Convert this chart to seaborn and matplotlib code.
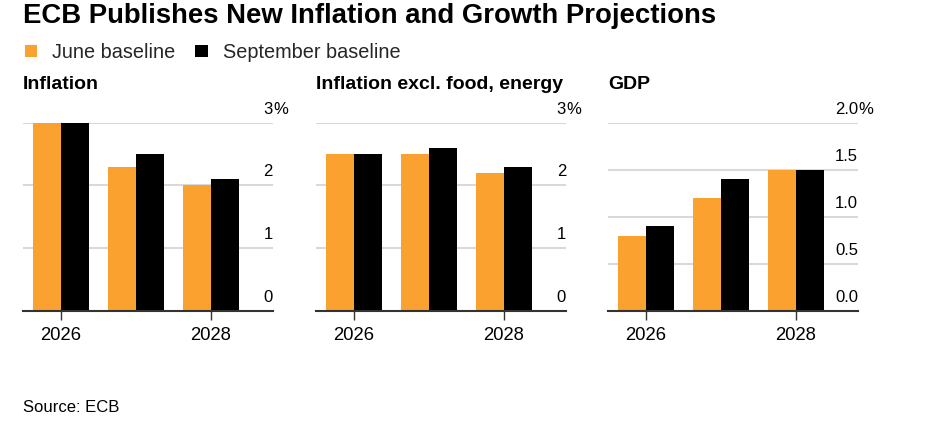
import matplotlib
matplotlib.use("Agg")
import matplotlib.pyplot as plt
import matplotlib.transforms as mtransforms
from matplotlib.patches import Patch
import pandas as pd
import seaborn as sns

# data
years = ["2026", "2027", "2028"]
series = ["June baseline", "September baseline"]
inflation_june = [3.0, 2.3, 2.0]
inflation_sept = [3.0, 2.5, 2.1]
core_june = [2.5, 2.5, 2.2]
core_sept = [2.5, 2.6, 2.3]
gdp_june = [0.8, 1.2, 1.5]
gdp_sept = [0.9, 1.4, 1.5]

panel_titles = ["Inflation", "Inflation excl. food, energy", "GDP"]
infl_ticks = [0, 1, 2, 3]
infl_labels = ["0", "1", "2", "3"]
gdp_ticks = [0, 0.5, 1.0, 1.5, 2.0]
gdp_labels = ["0.0", "0.5", "1.0", "1.5", "2.0"]
shown_years = ["2026", "2028"]

ORANGE = "#FAA12F"
BLACK = "#000000"
GRID = "#D9D9D9"
AXIS = "#333333"

sns.set_theme(style="white")
plt.rcParams["font.family"] = ["Liberation Sans", "DejaVu Sans"]

W, H = 939, 443
fig = plt.figure(figsize=(W / 100, H / 100), dpi=100)


def make_df(june, sept):
    rows = []
    for y, j, s in zip(years, june, sept):
        rows.append({"year": y, "baseline": series[0], "value": j})
        rows.append({"year": y, "baseline": series[1], "value": s})
    return pd.DataFrame(rows)


panels = [
    (make_df(inflation_june, inflation_sept), infl_ticks, infl_labels),
    (make_df(core_june, core_sept), infl_ticks, infl_labels),
    (make_df(gdp_june, gdp_sept), gdp_ticks, gdp_labels),
]
lefts = [23, 316, 608]
ax_w = 250
top_px, bottom_px = 122.7, 310.7

for i, (df, ticks, labels) in enumerate(panels):
    ax = fig.add_axes([lefts[i] / W, 1 - bottom_px / H, ax_w / W, (bottom_px - top_px) / H])
    sns.barplot(data=df, x="year", y="value", hue="baseline", order=years,
                hue_order=series, palette=[ORANGE, BLACK], saturation=1,
                width=0.75, linewidth=0, legend=False, ax=ax)
    ax.set_xlim(-0.507, 2.827)
    ax.set_ylim(ticks[0], ticks[-1])
    ax.set_xlabel("")
    ax.set_ylabel("")

    # gridlines (zero line drawn as axis)
    for t in ticks[1:]:
        ax.axhline(t, color=GRID, lw=1.5, zorder=0)
    for s in ["top", "right", "left"]:
        ax.spines[s].set_visible(False)
    ax.spines["bottom"].set_color(AXIS)
    ax.spines["bottom"].set_linewidth(1.5)
    ax.spines["bottom"].set_zorder(5)

    ax.set_yticks([])
    ax.set_xticks([years.index(y) for y in shown_years])
    ax.set_xticklabels(shown_years, fontsize=13.3, color="black")
    ax.tick_params(axis="x", direction="out", length=6.5, width=1, color=AXIS,
                   pad=5.5, bottom=True)

    # y labels sit above gridlines, right edge of number at axes edge
    trans = mtransforms.blended_transform_factory(ax.transAxes, ax.transData)
    off = mtransforms.offset_copy(trans, fig=fig, x=0, y=6.5, units="points")
    for t, lab in zip(ticks, labels):
        ax.text(1.0, t, lab, transform=off, ha="right", va="baseline",
                fontsize=12, color="black", clip_on=False)
    ax.text(1.0, ticks[-1], "%", transform=off, ha="left", va="baseline",
            fontsize=12, color="black", clip_on=False)

    ax.annotate(panel_titles[i], xy=(0, 1), xycoords="axes fraction",
                xytext=(0, 24), textcoords="offset points", ha="left",
                va="baseline", fontsize=14, fontweight="bold", color="black")

fig.text(23 / W, 1 - 23.3 / H, "ECB Publishes New Inflation and Growth Projections",
         ha="left", va="baseline", fontsize=19.8, fontweight="bold", color="black")

handles = [Patch(facecolor=ORANGE, edgecolor="none"), Patch(facecolor=BLACK, edgecolor="none")]
fig.legend(handles, series, loc="lower left", bbox_to_anchor=(25 / W, 1 - 62 / H),
           ncol=2, frameon=False, fontsize=14.3, handlelength=0.62, handleheight=0.62,
           handletextpad=0.75, columnspacing=1.0, borderpad=0, borderaxespad=0)

fig.text(23 / W, 1 - 411.7 / H, "Source: ECB", ha="left", va="baseline",
         fontsize=12, color="black")

fig.savefig("out.png", dpi=100, facecolor="white")
